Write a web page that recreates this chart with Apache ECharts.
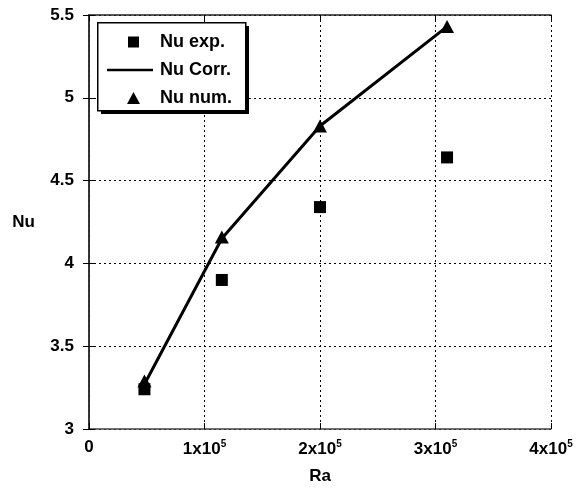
<!DOCTYPE html>
<html>
<head>
<meta charset="utf-8">
<script src="https://cdn.jsdelivr.net/npm/echarts@6/dist/echarts.min.js"></script>
<style>
  html, body { margin: 0; padding: 0; background: #fff; }
  #chart { width: 586px; height: 488px; }
</style>
</head>
<body>
<div id="chart"></div>
<script>
// Rayleigh number at each measurement point
const raValues = [48000, 115000, 200000, 310000];
// Measured Nusselt numbers
const nuExp = [3.24, 3.90, 4.34, 4.64];
// Correlation curve
const nuCorr = [3.27, 4.15, 4.83, 5.43];
// Numerical Nusselt numbers
const nuNum = [3.29, 4.16, 4.83, 5.43];

const seriesNames = ['Nu exp.', 'Nu Corr.', 'Nu num.'];
const yTicks = [3, 3.5, 4, 4.5, 5, 5.5];

const pairs = (xs, ys) => xs.map((x, i) => [x, ys[i]]);

const font = 'Liberation Sans, Arial, sans-serif';
const chart = echarts.init(document.getElementById('chart'), null, { renderer: 'canvas' });

// Legend icons share a 46x13 box so each glyph keeps its own size and place
const iconBox = 'M0,0L0,0M46,13L46,13';
const legendIcons = [
  'path://' + iconBox + 'M21,1h11v11h-11z',
  'path://' + iconBox + 'M0,5.25h46v2.5h-46z',
  'path://' + iconBox + 'M26.5,0.5L33,12.5L20,12.5z'
];

const frameAxis = {
  show: true,
  axisLine: { show: true, lineStyle: { color: '#222', width: 1.5 } },
  axisTick: { show: true, inside: true, length: 6, lineStyle: { color: '#000', width: 1 } },
  axisLabel: { show: false },
  splitLine: { show: false }
};

chart.setOption({
  animation: false,
  backgroundColor: '#fff',
  grid: { left: 89, right: 35, top: 15, bottom: 59, containLabel: false, outerBoundsMode: 'none' },
  xAxis: [{
    type: 'value', min: 0, max: 400000, interval: 100000,
    name: 'Ra', nameLocation: 'middle', nameGap: 39,
    nameTextStyle: { fontFamily: font, fontWeight: 'bold', fontSize: 17, color: '#000' },
    axisLine: { show: true, lineStyle: { color: '#444', width: 1.5 } },
    axisTick: { show: true, inside: true, length: 6, lineStyle: { color: '#000' } },
    splitLine: { show: true, lineStyle: { color: '#000', type: [2, 3], width: 1 } },
    axisLabel: {
      margin: 10,
      formatter: v => v === 0 ? '0' : '{a|' + Math.round(v / 100000) + 'x10}{s|5}',
      fontFamily: font, fontWeight: 'bold', fontSize: 17, color: '#000',
      rich: {
        a: { fontFamily: font, fontWeight: 'bold', fontSize: 17, color: '#000', lineHeight: 20 },
        s: { fontFamily: font, fontSize: 10, color: '#000', verticalAlign: 'top', lineHeight: 20 }
      }
    }
  }, Object.assign({ type: 'value', position: 'top', min: 0, max: 400000, interval: 100000 }, frameAxis)],
  yAxis: [{
    type: 'value', min: 3, max: 5.5, interval: 0.5,
    name: 'Nu', nameLocation: 'middle', nameGap: 54, nameRotate: 0,
    nameTextStyle: { fontFamily: font, fontWeight: 'bold', fontSize: 17, color: '#000', padding: [0, 0, 8, 0] },
    axisLine: { show: true, lineStyle: { color: '#444', width: 1.5 } },
    axisTick: { show: true, inside: true, length: 6, lineStyle: { color: '#000' } },
    splitLine: { show: true, lineStyle: { color: '#000', type: [2, 3], width: 1 } },
    axisLabel: {
      margin: 15,
      formatter: v => yTicks.indexOf(v) >= 0 ? String(v) : '',
      fontFamily: font, fontWeight: 'bold', fontSize: 17, color: '#000'
    }
  }, Object.assign({ type: 'value', position: 'right', min: 3, max: 5.5, interval: 0.5 }, frameAxis)],
  legend: {
    orient: 'vertical', left: 107, top: 33, padding: 0,
    itemWidth: 46, itemHeight: 13, itemGap: 10, z: 10,
    data: seriesNames.map((name, i) => ({ name: name, icon: legendIcons[i], itemStyle: { color: '#000', opacity: 1 } })),
    textStyle: { fontFamily: font, fontWeight: 'bold', fontSize: 18, lineHeight: 18, color: '#000', padding: [0, 0, 0, 2] }
  },
  graphic: [
    { type: 'rect', z: 5, left: 101, top: 26, shape: { width: 148, height: 88 }, style: { fill: '#000' } },
    { type: 'rect', z: 6, left: 97, top: 22, shape: { width: 148, height: 88 },
      style: { fill: '#fff', stroke: '#000', lineWidth: 1.5 } }
  ],
  series: [
    {
      name: seriesNames[0], type: 'scatter', symbol: 'rect', symbolSize: 12,
      itemStyle: { color: '#000', opacity: 1 }, z: 3,
      data: pairs(raValues, nuExp)
    },
    {
      name: seriesNames[1], type: 'line', symbol: 'none', showSymbol: false,
      lineStyle: { color: '#000', width: 3 }, itemStyle: { color: '#000' }, z: 2,
      data: pairs(raValues, nuCorr)
    },
    {
      name: seriesNames[2], type: 'scatter', symbol: 'triangle', symbolSize: [14, 13],
      itemStyle: { color: '#000', opacity: 1 }, z: 4,
      data: pairs(raValues, nuNum)
    }
  ]
});
</script>
</body>
</html>
